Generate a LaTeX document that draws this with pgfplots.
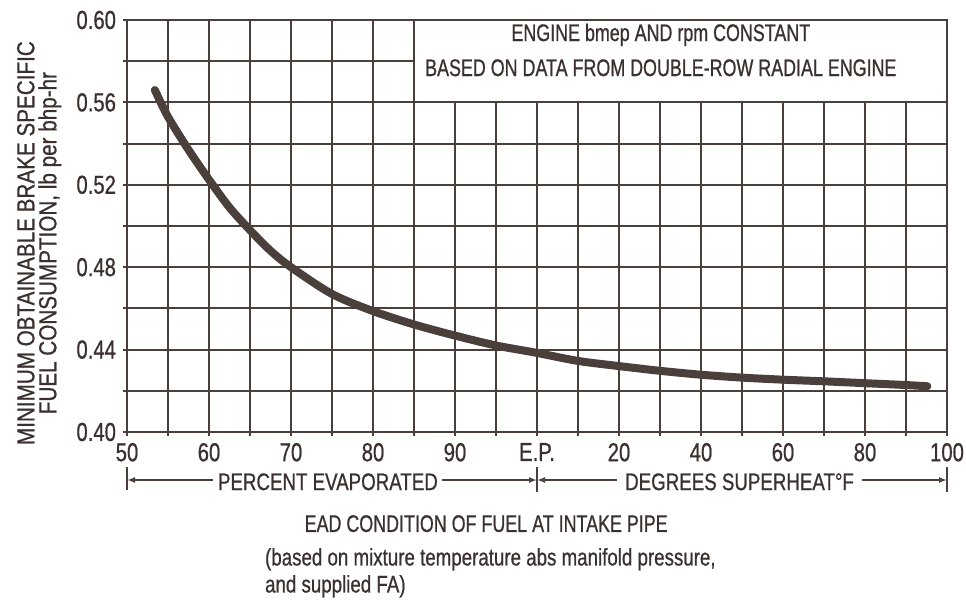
\documentclass[border=0pt]{standalone}
\usepackage{fontspec}
\setmainfont{Liberation Sans}[FakeStretch=0.78, FakeBold=0.7]
\newfontfamily\narrowfont{Liberation Sans}[FakeStretch=0.745, FakeBold=0.7]
\newfontfamily\ylabfont{Liberation Sans}[FakeStretch=0.84, FakeBold=0.7]
\usepackage{pgfplots}
\pgfplotsset{compat=1.18}
\usetikzlibrary{arrows.meta}

\definecolor{ink}{HTML}{4A3F3B}
\definecolor{txt}{HTML}{3A302D}

% curve; x: 50..100 percent evaporated, then 100 + superheat/2
\pgfplotstableread{
x      y
53.4   0.566
55     0.553
57.5   0.537
60     0.5225
62.5   0.509
65     0.498
67.5   0.488
70     0.480
75     0.467
80     0.4587
85     0.4522
90     0.4468
95     0.442
100    0.4384
105    0.4345
110    0.432
115    0.4297
120    0.4278
125    0.4264
130    0.4254
135    0.4246
140    0.4237
145    0.4228
147.6  0.4222
}\bsfc

\begin{document}
\begin{tikzpicture}[every node/.style={text=txt}]
\begin{axis}[
    scale only axis,
    width=410pt, height=206pt,
    xmin=50, xmax=150, ymin=0.40, ymax=0.60,
    clip=false,
    xtick={50,60,...,150},
    xticklabels={50,60,70,80,90,E.P.,20,40,60,80,100},
    minor xtick={55,65,...,145},
    ytick={0.40,0.44,0.48,0.52,0.56,0.60},
    minor ytick={0.42,0.46,0.50,0.54,0.58},
    yticklabel style={/pgf/number format/fixed,/pgf/number format/fixed zerofill,/pgf/number format/precision=2},
    /pgf/number format/assume math mode=true,
    grid=both,
    major grid style={ink, line width=1pt},
    minor grid style={ink, line width=1pt},
    axis line style={ink, line width=1.2pt},
    tick style={ink, line width=1pt},
    tick align=outside,
    xtick pos=bottom, ytick pos=left,
    major tick length=2pt, minor tick length=2pt,
    ticklabel style={font=\fontsize{13}{13}\selectfont, text=txt},
    scaled y ticks=false,
]
\addplot[ink, line width=4pt, line cap=round, smooth, tension=0.5] table[x=x, y=y] {\bsfc};

% note box
\draw[ink, line width=1pt, fill=white] (axis cs:85,0.56) rectangle (axis cs:150,0.60);
\node[anchor=base, align=center, font=\narrowfont\fontsize{12}{17.5}\selectfont]
  at (axis cs:115.1,0.5728) {ENGINE bmep AND rpm CONSTANT\\BASED ON DATA FROM DOUBLE-ROW RADIAL ENGINE};

% range arrows under the axis
\draw[ink, line width=1pt] (axis cs:50,0.3830) -- (axis cs:50,0.3718);
\draw[ink, line width=1pt] (axis cs:100,0.3830) -- (axis cs:100,0.3710);
\draw[ink, line width=1pt] (axis cs:150,0.3830) -- (axis cs:150,0.3710);
\draw[ink, line width=0.8pt, {Latex[length=4pt,width=3pt]}-] (axis cs:50,0.3767) -- (axis cs:60.5,0.3767);
\draw[ink, line width=0.8pt, -{Latex[length=4pt,width=3pt]}] (axis cs:88.4,0.3767) -- (axis cs:100,0.3767);
\draw[ink, line width=0.8pt, {Latex[length=4pt,width=3pt]}-] (axis cs:100,0.3767) -- (axis cs:109.8,0.3767);
\draw[ink, line width=0.8pt, -{Latex[length=4pt,width=3pt]}] (axis cs:139.6,0.3767) -- (axis cs:150,0.3767);
\node[anchor=base, font=\fontsize{12}{12}\selectfont] at (axis cs:74.5,0.3718) {PERCENT EVAPORATED};
\node[anchor=base, font=\fontsize{12}{12}\selectfont] at (axis cs:124.7,0.3718) {DEGREES SUPERHEAT\textdegree F};

% x title and note
\node[anchor=base, font=\narrowfont\fontsize{12}{12}\selectfont] at (axis cs:93.8,0.3515) {EAD CONDITION OF FUEL AT INTAKE PIPE};
\node[anchor=base west, align=left, font=\fontsize{12}{13.5}\selectfont]
  at (axis cs:65.98,0.3221) {(based on mixture temperature abs manifold pressure,\\and supplied FA)};

% y title
\node[rotate=90, align=center, font=\ylabfont\fontsize{12.3}{11}\selectfont]
  at (axis cs:39.3,0.4917) {MINIMUM OBTAINABLE BRAKE SPECIFIC\\FUEL CONSUMPTION, lb per bhp-hr};

\coordinate (bl) at (rel axis cs:0,0);
\coordinate (tr) at (rel axis cs:1,1);
\end{axis}
\pgfresetboundingbox
\path ([shift={(-63.5pt,-83.5pt)}]bl) rectangle ([shift={(9.5pt,10pt)}]tr);
\end{tikzpicture}
\end{document}
